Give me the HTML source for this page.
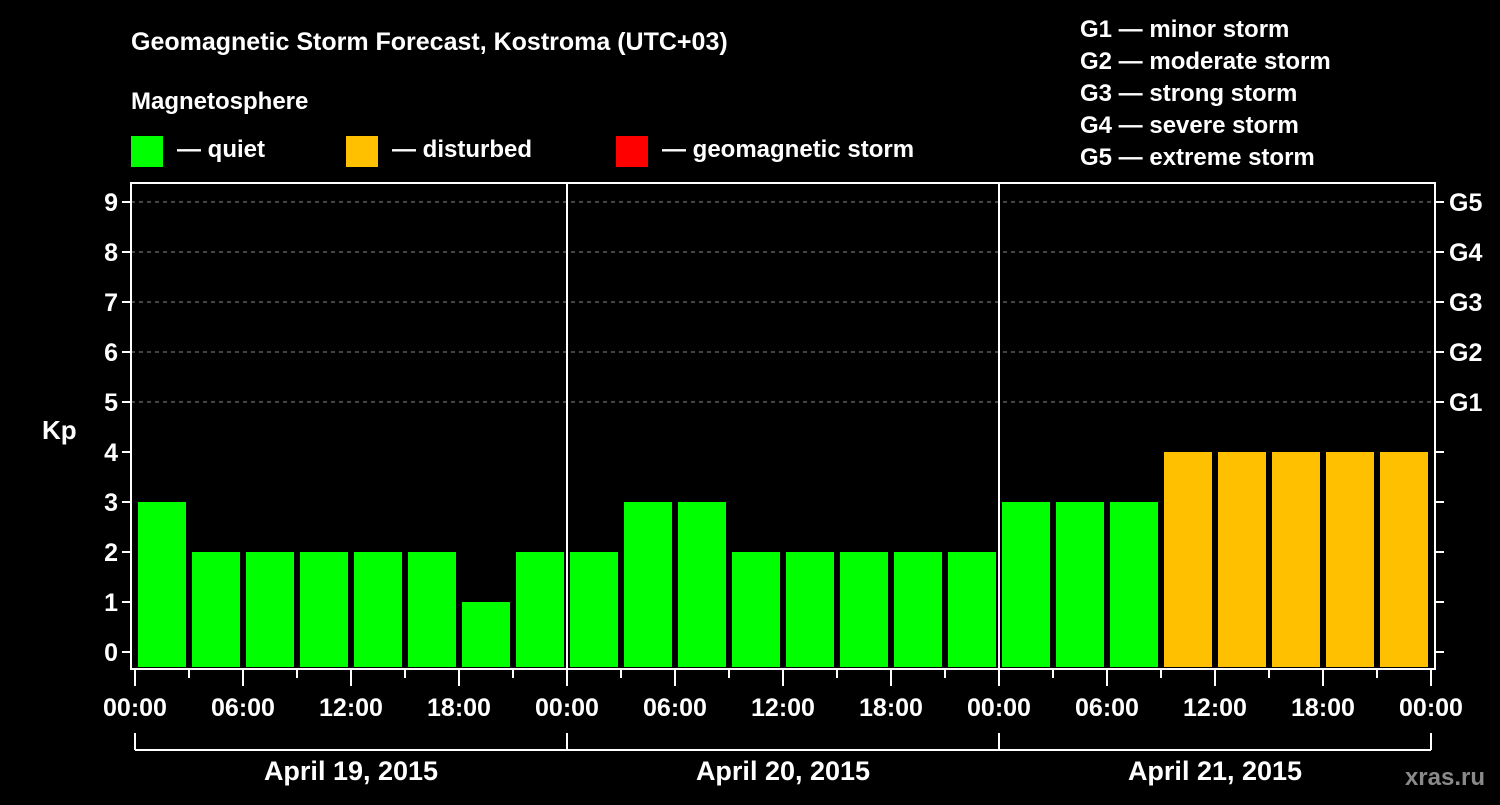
<!DOCTYPE html>
<html><head><meta charset="utf-8"><style>
body{margin:0;background:#000;width:1500px;height:800px;overflow:hidden;font-family:"Liberation Sans",Arial,sans-serif;}
svg text{font-family:"Liberation Sans",Arial,sans-serif;font-weight:bold;fill:#fff}
</style></head><body>
<svg id="chart" width="1500" height="800">
<text x="131" y="50" font-size="25">Geomagnetic Storm Forecast, Kostroma (UTC+03)</text>
<text x="131" y="109" font-size="24">Magnetosphere</text>
<rect x="131" y="136" width="32" height="31" fill="#00ff00"/>
<text x="177" y="157" font-size="24">— quiet</text>
<rect x="346" y="136" width="32" height="31" fill="#ffc000"/>
<text x="392" y="157" font-size="24">— disturbed</text>
<rect x="616" y="136" width="32" height="31" fill="#ff0000"/>
<text x="662" y="157" font-size="24">— geomagnetic storm</text>
<g font-size="24">
<text x="1080" y="37">G1 — minor storm</text>
<text x="1080" y="69">G2 — moderate storm</text>
<text x="1080" y="101">G3 — strong storm</text>
<text x="1080" y="133">G4 — severe storm</text>
<text x="1080" y="165">G5 — extreme storm</text>
</g>
<text x="42" y="439" font-size="26">Kp</text>
<text x="1485" y="785" font-size="24" fill="#888" style="fill:#8a8a8a" text-anchor="end">xras.ru</text>
<g id="grid"></g><g id="bars"></g><g id="axes"></g>
</svg>
<script>
const kpValues=[3,2,2,2,2,2,1,2, 2,3,3,2,2,2,2,2, 3,3,3,4,4,4,4,4];
const yTicks=[0,1,2,3,4,5,6,7,8,9];
const gLabels=["G1","G2","G3","G4","G5"];
const hourLabels=["00:00","06:00","12:00","18:00","00:00","06:00","12:00","18:00","00:00","06:00","12:00","18:00","00:00"];
const dayLabels=["April 19, 2015","April 20, 2015","April 21, 2015"];
const NS="http://www.w3.org/2000/svg";
const X0=135,SLOT=54,Y0=652,UNIT=50,L=131,R=1435,T=183,B=669;
const xs=i=>X0+i*SLOT, ys=v=>Y0-v*UNIT;
function mk(tag,attrs,parent){const e=document.createElementNS(NS,tag);for(const k in attrs)e.setAttribute(k,attrs[k]);parent.appendChild(e);return e;}
const grid=document.getElementById('grid'),bars=document.getElementById('bars'),axes=document.getElementById('axes');
yTicks.forEach(v=>{
 if(v>=5){const l=mk('line',{x1:L,x2:R,y1:ys(v),y2:ys(v),stroke:'#888','stroke-dasharray':'4,4','stroke-width':1},grid);
 
 }
 const t=mk('line',{x1:L-9,x2:L,y1:ys(v),y2:ys(v),stroke:'#fff','stroke-width':2},axes);
 
 
 const t2=mk('line',{x1:R,x2:R+9,y1:ys(v),y2:ys(v),stroke:'#fff','stroke-width':2},axes);
 
 
 const tx=mk('text',{x:L-13,y:ys(v)+9,'font-size':25,'text-anchor':'end'},axes);tx.textContent=v;
 
 
});
gLabels.forEach((g,i)=>{const tx=mk('text',{x:R+14,y:ys(5+i)+9,'font-size':25},axes);tx.textContent=g;
 
 });
kpValues.forEach((v,i)=>{
 const col=v>=5?'#ff0000':(v>=4?'#ffc000':'#00ff00');
 const r=mk('rect',{x:xs(i)+3,y:ys(v),width:48,height:B-2-ys(v),fill:col},bars);
 
 
});
const box=mk('rect',{x:L,y:T,width:R-L,height:B-T,fill:'none',stroke:'#fff','stroke-width':2},axes);


for(let d=1;d<dayLabels.length;d++){const l=mk('line',{x1:xs(d*8),x2:xs(d*8),y1:T,y2:B,stroke:'#fff','stroke-width':2},axes);
 
 }
for(let i=0;i<=kpValues.length;i++){const major=i%2===0;
 const l=mk('line',{x1:xs(i),x2:xs(i),y1:B,y2:major?B+17:B+9,stroke:'#fff','stroke-width':2},axes);
 
 }
hourLabels.forEach((h,i)=>{const t=mk('text',{x:xs(i*2),y:716,'font-size':25,'text-anchor':'middle'},axes);t.textContent=h;
 
 });
mk('line',{x1:xs(0),x2:xs(24),y1:750,y2:750,stroke:'#fff','stroke-width':2},axes);
for(let d=0;d<=dayLabels.length;d++){const l=mk('line',{x1:xs(d*8),x2:xs(d*8),y1:733,y2:750,stroke:'#fff','stroke-width':2},axes);
 
 }
dayLabels.forEach((dl,d)=>{const t=mk('text',{x:xs(d*8+4),y:780,'font-size':27,'text-anchor':'middle'},axes);t.textContent=dl;
 
 });
</script>
</body></html>
